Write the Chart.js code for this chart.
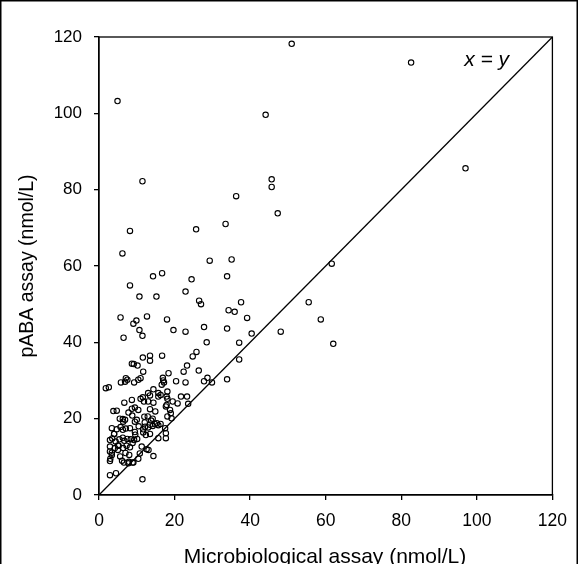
<!DOCTYPE html>
<html>
<head>
<meta charset="utf-8">
<script src="https://cdn.jsdelivr.net/npm/chart.js@4"></script>
<style>
  html, body { margin: 0; padding: 0; background: #fff; }
  #wrap { width: 578px; height: 564px; position: relative; overflow: hidden; }
</style>
</head>
<body>
<div id="wrap"><canvas id="scatterChart" width="578" height="564"></canvas></div>
<script>
// Microbiological assay (x) vs pABA assay (y), nmol/L
const microValues = [
  51.0, 4.9, 44.1, 11.5, 45.7, 45.7, 36.3, 47.3, 33.5, 25.7, 8.2, 82.6, 97.0,
  6.2, 29.3, 35.1, 16.7, 14.3, 24.5, 33.9, 61.6, 8.2, 10.7, 15.2, 22.9, 26.5, 27.0,
  37.6, 55.5, 34.3, 35.9, 5.7, 12.7, 9.9, 9.1, 18.0, 39.2, 58.7, 10.7, 19.7, 22.9,
  27.8, 33.9, 40.4, 48.1, 11.5, 6.5, 28.5, 37.1, 62.0, 37.1, 28.7, 27.8, 29.9, 33.9,
  11.6, 13.5, 13.5, 16.7, 8.7, 9.2, 10.2, 11.7, 18.4, 11.0, 10.4, 9.3, 7.1, 7.5,
  6.9, 5.8, 1.8, 2.6, 25.8, 24.8, 23.3, 26.4, 22.4, 20.4, 22.9, 17.0, 17.2, 16.6,
  14.4, 13.0, 13.5, 15.7, 16.3, 15.7, 18.1, 17.9, 18.1, 21.7, 23.3, 19.5, 23.6,
  11.6, 11.0, 11.9, 8.7, 6.7, 14.4, 13.0, 17.9, 17.7, 9.5, 10.4, 8.7, 7.8, 3.8,
  4.7, 18.8, 19.0, 19.2, 18.1, 6.9, 6.3, 6.4, 10.0, 9.5, 14.2, 13.8, 15.3,
  3.4, 4.7, 5.7, 6.3, 7.1, 8.2, 11.7, 12.2, 13.0, 13.5, 14.2, 14.8, 15.7, 16.3,
  17.5, 17.7, 11.7, 12.4, 13.5, 15.7, 17.7, 2.9, 3.5, 4.4, 5.4, 6.3, 6.7, 7.5,
  8.4, 9.3, 10.1, 2.9, 2.9, 3.4, 4.2, 5.2, 6.4, 7.3, 8.2, 8.9, 5.6, 6.1, 6.6,
  8.0, 7.9, 8.9, 11.3, 10.8, 13.1, 14.4, 2.9, 4.5, 11.5, 10.4, 9.1, 7.8, 12.6,
  2.9, 3.4, 4.0, 5.0, 9.6, 12.9, 14.9, 20.8, 16.9, 12.1,
  4.0, 5.0, 7.0, 9.5, 10.5, 12.0, 5.5, 8.8, 3.0, 13.5
];
const pabaValues = [
  118.2, 103.2, 99.6, 82.2, 82.7, 80.7, 78.3, 73.8, 71.0, 69.6, 69.2, 113.3, 85.6,
  63.3, 61.4, 61.7, 58.1, 57.3, 56.5, 57.3, 60.6, 54.9, 52.0, 52.0, 53.3, 50.9, 50.0,
  50.5, 50.5, 48.4, 48.0, 46.5, 46.8, 45.7, 44.9, 46.0, 46.4, 46.0, 43.2, 43.2, 42.8,
  44.0, 43.6, 42.3, 42.8, 41.7, 41.2, 40.0, 39.9, 39.6, 35.5, 30.7, 29.8, 29.5, 30.3,
  36.0, 36.5, 35.2, 36.5, 34.4, 34.3, 33.9, 32.3, 31.9, 30.6, 30.2, 29.5, 30.6, 30.2,
  29.7, 29.5, 28.0, 28.2, 37.5, 36.3, 33.9, 32.6, 32.3, 29.8, 29.5, 30.0, 29.5, 28.9,
  27.7, 26.7, 26.1, 26.7, 26.2, 25.8, 27.1, 25.8, 25.2, 25.8, 25.8, 24.5, 23.9,
  25.6, 25.2, 24.5, 24.9, 24.2, 24.2, 24.5, 23.6, 23.2, 22.9, 22.3, 22.6, 21.6, 22.0,
  22.1, 22.3, 21.4, 20.1, 20.6, 19.7, 19.9, 19.2, 19.7, 19.2, 20.0, 19.5, 18.8,
  17.5, 17.2, 17.8, 17.1, 17.4, 17.5, 17.2, 17.9, 17.7, 18.4, 18.1, 18.6, 18.3, 18.6,
  17.5, 16.2, 16.4, 15.7, 16.0, 14.9, 14.9, 14.4, 14.8, 14.0, 14.6, 15.0, 14.2, 14.7,
  14.6, 14.4, 14.7, 12.7, 11.4, 10.5, 12.3, 12.9, 12.3, 12.9, 12.5, 13.6, 10.1, 9.0, 8.5,
  10.5, 8.7, 8.5, 12.7, 10.9, 11.8, 10.2, 5.2, 5.7, 4.1, 9.5, 8.5, 8.3, 12.0,
  8.9, 11.1, 16.0, 11.8, 15.8, 20.6, 21.9, 24.0, 30.7, 19.0,
  16.0, 13.0, 11.0, 16.5, 18.0, 20.5, 20.0, 20.8, 9.5, 22.5
];
const identityLine = [0, 120];
const tickValues = [0, 20, 40, 60, 80, 100, 120];

const points = microValues.map((v, i) => ({ x: v, y: pabaValues[i] }));

// Rahmen, Achsentitel und Beschriftung x = y
const decorations = {
  id: 'decorations',
  afterDraw(chart) {
    const { ctx, chartArea: a, scales } = chart;
    ctx.save();
    ctx.strokeStyle = '#000';
    ctx.lineWidth = 1.3;
    ctx.strokeRect(a.left, a.top, a.right - a.left, a.bottom - a.top);

    // outer frame (bottom edge falls outside the picture)
    ctx.lineWidth = 1.5;
    ctx.beginPath();
    ctx.moveTo(0.75, 600);
    ctx.lineTo(0.75, 0.75);
    ctx.lineTo(577.25, 0.75);
    ctx.lineTo(577.25, 600);
    ctx.stroke();

    ctx.fillStyle = '#000';
    ctx.textAlign = 'center';
    ctx.textBaseline = 'alphabetic';
    ctx.font = '21px "Liberation Sans", Arial, sans-serif';
    ctx.fillText('Microbiological assay (nmol/L)', 325, 563);

    ctx.textBaseline = 'middle';
    ctx.font = '19.5px "Liberation Sans", Arial, sans-serif';
    ctx.translate(28, (a.top + a.bottom) / 2);
    ctx.rotate(-Math.PI / 2);
    ctx.fillText('pABA assay (nmol/L)', 0, 0);
    ctx.restore();

    ctx.save();
    ctx.fillStyle = '#000';
    ctx.textAlign = 'center';
    ctx.textBaseline = 'middle';
    ctx.font = 'italic 21px "Liberation Sans", Arial, sans-serif';
    ctx.fillText('x = y', scales.x.getPixelForValue(102.6), scales.y.getPixelForValue(113.9));
    ctx.restore();
  }
};

const ctx = document.getElementById('scatterChart').getContext('2d');
new Chart(ctx, {
  type: 'scatter',
  data: {
    datasets: [
      {
        type: 'line',
        data: identityLine.map(v => ({ x: v, y: v })),
        borderColor: '#000',
        borderWidth: 1.3,
        pointRadius: 0,
        fill: false
      },
      {
        data: points,
        backgroundColor: 'rgba(255,255,255,0)',
        borderColor: '#000',
        borderWidth: 1.1,
        pointRadius: 2.7
      }
    ]
  },
  options: {
    responsive: false,
    animation: false,
    layout: { padding: { left: 0, top: 37, right: 24, bottom: 0 } },
    plugins: {
      legend: { display: false },
      tooltip: { enabled: false }
    },
    scales: {
      x: {
        type: 'linear',
        min: 0,
        max: 120,
        afterFit: s => { s.height = 69; },
        afterBuildTicks: s => { s.ticks = tickValues.map(v => ({ value: v })); },
        grid: { drawOnChartArea: false, drawTicks: true, tickLength: 5, color: '#000', lineWidth: 1.3 },
        border: { display: true, color: '#000', width: 1.3 },
        ticks: { color: '#000', padding: 11, font: { family: '"Liberation Sans", Arial', size: 17.5 } }
      },
      y: {
        type: 'linear',
        min: 0,
        max: 120,
        afterFit: s => { s.width = 99; },
        afterBuildTicks: s => { s.ticks = tickValues.map(v => ({ value: v })); },
        grid: { drawOnChartArea: false, drawTicks: true, tickLength: 5, color: '#000', lineWidth: 1.3 },
        border: { display: true, color: '#000', width: 1.3 },
        ticks: { color: '#000', padding: 12, font: { family: '"Liberation Sans", Arial', size: 17 } }
      }
    }
  },
  plugins: [decorations]
});
</script>
</body>
</html>
